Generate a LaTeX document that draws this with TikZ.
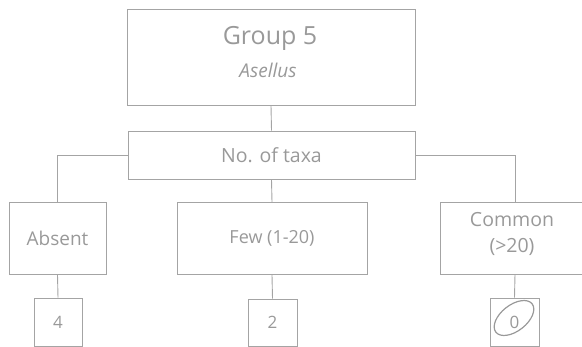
\documentclass[tikz,border=0pt]{standalone}
\usepackage{fontspec}
\setmainfont{Open Sans}
\definecolor{linegray}{HTML}{A4A4A4}
\definecolor{textgray}{HTML}{999999}
\tikzset{
  box/.style={draw=linegray, line width=0.9pt, rectangle, inner sep=0pt, text=textgray, align=center},
  conn/.style={draw=linegray, line width=0.9pt},
  lbl/.style={text=textgray, inner sep=0pt, anchor=center}
}
\begin{document}
\begin{tikzpicture}[x=1pt,y=-1pt]
\useasboundingbox (0,0) rectangle (582,347);
% top box
\node[box, minimum width=288pt, minimum height=96pt] (top) at (271,57) {};
\node[lbl, font=\fontsize{25}{28}\selectfont] (g5) at (270,38) {Group 5};
\node[lbl, font=\fontsize{19}{22}\selectfont\itshape] (as) at (268,70) {Asellus};
% no of taxa
\node[box, minimum width=287pt, minimum height=48pt, font=\fontsize{19.5}{22}\selectfont] (taxa) at (271.5,155) {No. of taxa};
% level 3
\node[box, minimum width=97pt, minimum height=72pt, font=\fontsize{19}{22}\selectfont] (absent) at (57.5,238.5) {Absent};
\node[box, minimum width=190pt, minimum height=72pt, font=\fontsize{18}{22}\selectfont] (few) at (272,238.5) {Few (1-20)};
\node[box, minimum width=150pt, minimum height=72pt] (common) at (515,238) {};
\node[lbl, font=\fontsize{19.5}{22}\selectfont] (c1) at (512,220) {Common};
\node[lbl, font=\fontsize{19.5}{22}\selectfont] (c2) at (512,247) {(>20)};
% bottom boxes
\node[box, minimum width=48pt, minimum height=48pt, font=\fontsize{17}{20}\selectfont] (n4) at (58,322) {4};
\node[box, minimum width=49pt, minimum height=47pt, font=\fontsize{17}{20}\selectfont] (n2) at (272.5,322.5) {2};
\node[box, minimum width=49pt, minimum height=48pt, font=\fontsize{17}{20}\selectfont] (n0) at (514.5,322) {0};
% connectors
\draw[conn] (top.south) -- (taxa.north);
\draw[conn] (taxa.west) -| (absent.north);
\draw[conn] (taxa.south) -- (few.north);
\draw[conn] (taxa.east) -| (common.north);
\draw[conn] (absent.south) -- (n4.north);
\draw[conn] (few.south) -- (n2.north);
\draw[conn] (common.north |- common.south) -- (n0.north);
% hand-drawn circle around 0
\draw[textgray, line width=1.2pt, rotate around={38:(514,318)}] (514,318) ellipse (23pt and 13pt);
\end{tikzpicture}
\end{document}
